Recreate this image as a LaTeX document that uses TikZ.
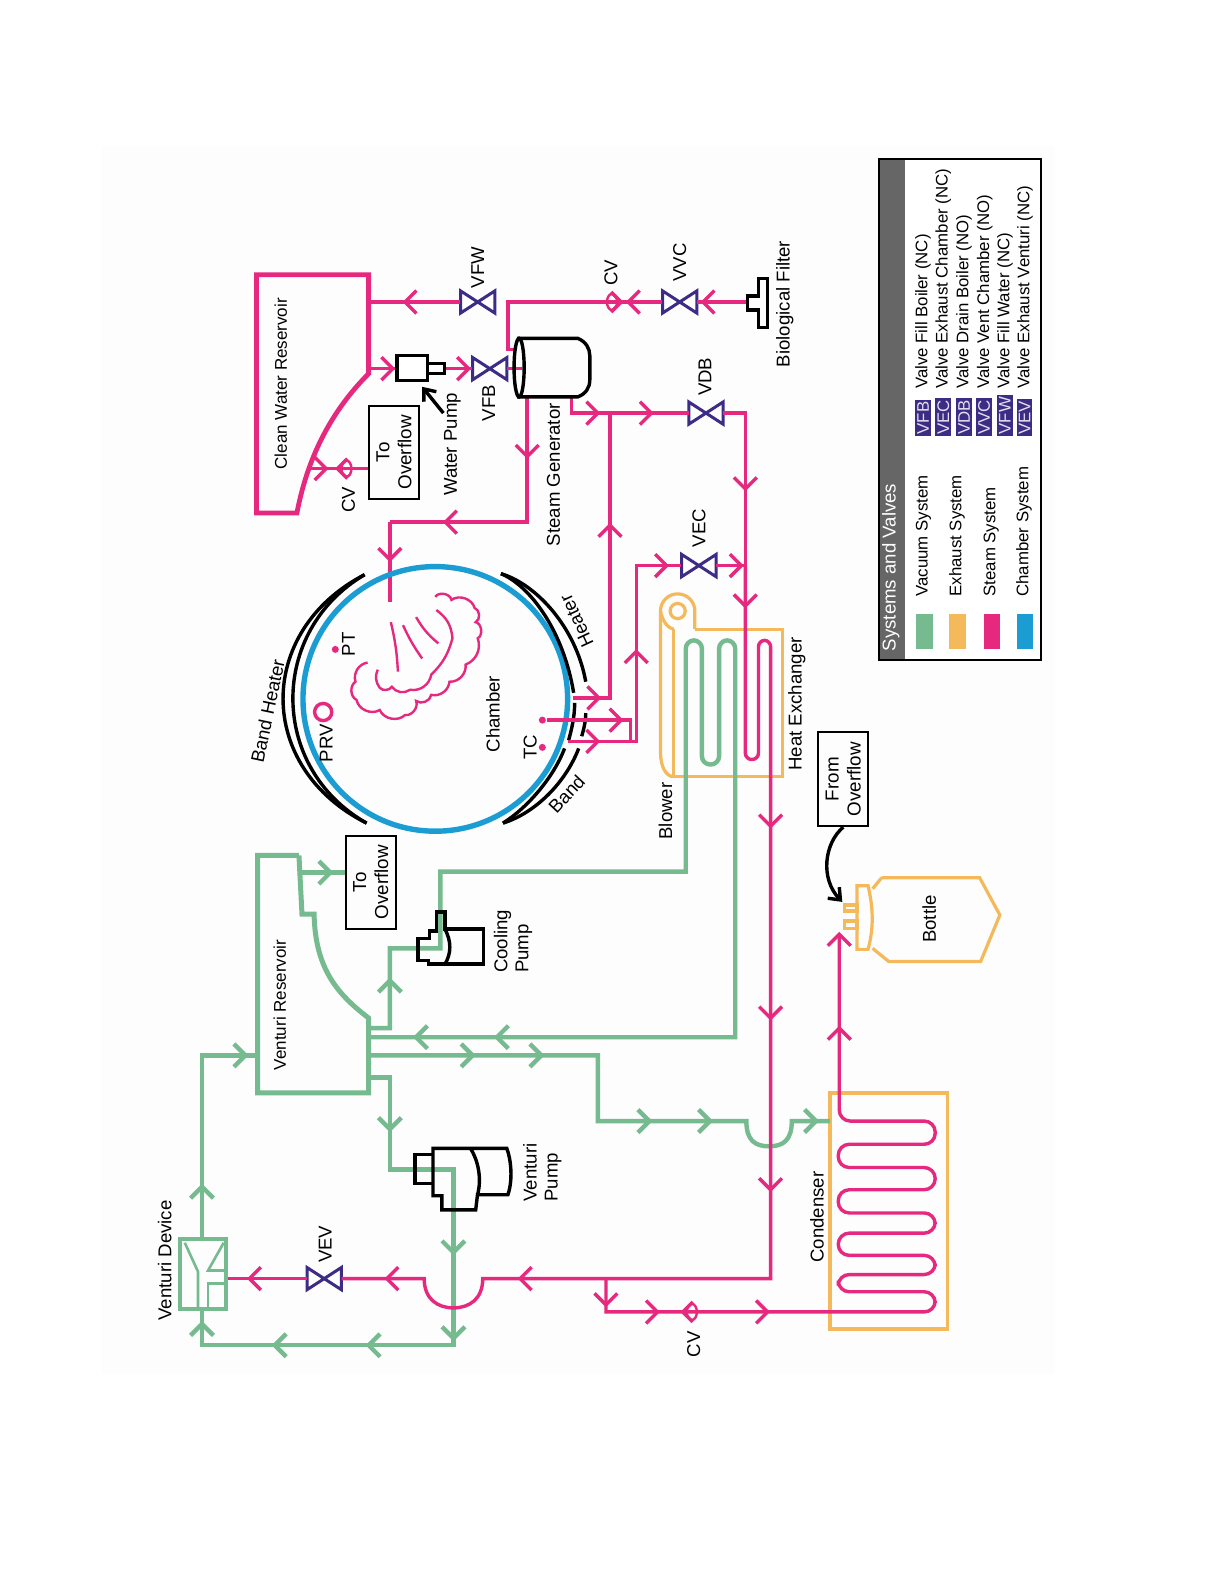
\documentclass[tikz,border=0pt]{standalone}
\usepackage{fontspec}
\setmainfont{Liberation Sans}
\usetikzlibrary{arrows.meta}
\definecolor{steamc}{HTML}{E6287F}
\definecolor{vacc}{HTML}{76BB8F}
\definecolor{exhc}{HTML}{F4B95A}
\definecolor{chamc}{HTML}{1B9DD4}
\definecolor{vlvc}{HTML}{3D2C85}
\definecolor{greyc}{HTML}{666666}
\begin{document}
\begin{tikzpicture}[x=0.50495pt,y=-0.50495pt,
    steam/.style={steamc,line width=1.7pt},
    coil/.style={steamc,line width=1.2pt},
    vac/.style={vacc,line width=2.2pt},
    exh/.style={exhc,line width=1.6pt},
    blk/.style={black,line width=1.7pt},
    vlv/.style={minimum width=17pt,minimum height=11pt,inner sep=0pt},
    box/.style={draw=black,line width=0.9pt,rotate=90,align=center,inner sep=0pt,font=\fontsize{9.4}{11}\selectfont},
    lbl/.style={rotate=90,inner sep=0pt,align=center,font=\fontsize{9.3}{10.5}\selectfont},
    lgd/.style={lbl,anchor=west,font=\fontsize{8.4}{10}\selectfont},
    badge/.style={rotate=90,anchor=west,inner sep=1pt,fill=vlvc,text=white!85!vlvc,font=\fontsize{8.4}{9}\selectfont}]
  \useasboundingbox (0,0) rectangle (1212,1568.4);
  \fill[white] (0,0) rectangle (1212,1568.4);
  \fill[black!0.7] (100,145) rectangle (1045,1360);
  % junctions and ports
  \foreach \n/\x/\y in {cwA/365/299,bfL/740/299,crA/503/299,crB/503/346,sgA/510/346,
      cwB/365/365,wpA/393/365,wpB/440/365,sgB/517/365,sgC/522/393,crC/522/517,crD/386/517,
      chA/386/596,sgD/566/393,crE/566/409,jnA/604/409,crF/738/409,jnB/738/560,
      htA/567/691,jnD/604/691,tcA/542/713,crG/624/713,crH/624/734,htB/562/734,
      crI/630/734,crJ/630/560,crK/763/1266,jnE/600/1266,hopA/478/1266,hopB/449/1295,
      hopC/420/1266,vdA/224/1266,cwC/305/464,ovA/365/464,btA/831/925,crL/600/1299,
      vrA/296/864,ovB/342/864,vrB/365/1018,crM/386/1018,crN/386/939,cpA/436/939,
      crO/436/863,crP/679/863,crQ/728/1027,vrC/365/1027,vrD/365/1045,crR/592/1045,
      crS/592/1110,hopD/739/1110,hopE/761.5/1135,hopF/784/1110,cdC/822/1110,
      vrE/365/1067,crT/386/1067,crU/386/1158,crV/449/1158,crW/449/1332,crX/200/1332,
      vdB/200/1296,vdC/200/1227,crY/200/1045,vrF/255/1045}
    \coordinate (\n) at (\x,\y);
  % valves
  \foreach \n/\x/\y in {vfw/473/299,vvc/673/299,vfb/485/365,vdb/699/409,vec/692/560,vev/321/1266}{
    \node[vlv] (\n) at (\x,\y) {};
    \draw[vlvc,line width=1.5pt,fill=white] (\x-17,\y-11)--(\x+17,\y+11)--(\x+17,\y-11)--(\x-17,\y+11)--cycle;
  }
  % steam into the chamber, then the chamber and heaters
  \draw[steam] (crD)--(chA);
  \draw[chamc,line width=2.7pt] (431,692) circle (131);
  \draw[blk] (361,569) .. controls (253,625) and (253,760) .. (363,815);
  \draw[blk] (361,569) .. controls (266,625) and (266,760) .. (363,815);
  \draw[blk] (496,568) .. controls (530,578) and (570,620) .. (580,675);
  \draw[blk] (496,568) .. controls (525,580) and (558,625) .. (568,686);
  \draw[blk] (498,815) .. controls (530,805) and (560,775) .. (573,741);
  \draw[blk] (498,815) .. controls (522,800) and (548,770) .. (559,741);
  \draw[blk] (569,696) .. controls (569,710) and (566,722) .. (563,733);
  \draw[blk] (580,706) .. controls (580,714) and (578,722) .. (576,729);
  \draw[steam] (320,705) circle (8.5);
  \foreach \n/\x/\y in {dotPT/332/643,dotTC/537/740,dotTD/537/713}
    \node[circle,fill=steamc,minimum size=3.5pt,inner sep=0pt] (\n) at (\x,\y) {};
  % the diffuser in the chamber
  \draw[coil] (431,591) to[bend left=70] (447,594) to[bend left=55] (470,602) to[bend left=70] (471,616)
    to[bend left=70] (473,632) to[bend left=45] (461,658) to[bend left=50] (445,675) to[bend left=50] (427,688)
    to[bend left=60] (412,694) to[bend left=60] (401,708) to[bend left=55] (376,703) to[bend left=55] (353,693)
    to[bend left=60] (352,675) to[bend left=50] (364,656);
  \draw[coil] (432,604) to[bend left=25] (448,632) to[bend left=15] (427,668) to[bend left=45] (406,683)
    to[bend left=45] (388,680) to[bend left=50] (376,681) to[bend left=30] (374,663);
  \draw[coil] (387,616) to[bend left=5] (394,665);
  \draw[coil] (399,619) to[bend right=5] (418,652);
  \draw[coil] (412,611) to[bend right=10] (434,637);
  % the exhaust parts
  \draw[exh] (688,623)--(775,623)--(775,769)--(667,769)--(667,623);
  \draw[exh] (688,623)--(688,605) arc (0:-180:17) --(654,745) .. controls (654,760) and (660,769) .. (667,769);
  \draw[exh] (654,605) .. controls (656,616) and (662,622) .. (667,623);
  \draw[exh] (671,605) circle (7.5);
  \draw[exhc,line width=1.8pt] (822,1082) rectangle (938,1316);
  \draw[exh] (873,869)--(970,869)--(990,906)--(971,952)--(880,952)--(864,939);
  \draw[exh] (864,880)--(873,869);
  \draw[exh] (848.6,877)--(859.5,877) .. controls (865,900) and (865,920) .. (859.5,940) --(848.6,940)--cycle;
  \draw[exh] (836,896) rectangle (848.6,902);
  \draw[exh] (836,912) rectangle (848.6,919);
  % steam lines
  \draw[steam] (cwA)--(vfw);
  \draw[steam] (bfL)--(vvc);
  \draw[steam] (vvc)--(crA)--(crB)--(sgA);
  \draw[steam] (cwB)--(wpA) (wpB)--(vfb) (vfb)--(sgB);
  \draw[steam] (sgC)--(crC)--(crD);
  \draw[steam] (sgD)--(crE)--(jnA)--(vdb);
  \draw[steam] (vdb)--(crF)--(jnB);
  \draw[steam] (htA)--(jnD)--(jnA);
  \draw[steam] (tcA)--(crG)--(crH);
  \draw[steam] (htB)--(crI)--(crJ)--(vec);
  \draw[steam] (vec)--(jnB);
  \draw[steam] (cwC)--(ovA);
  % vacuum lines
  \draw[vac] (vrA)--(ovB);
  \draw[vac] (vrB)--(crM)--(crN)--(cpA)--(crO)--(crP)--(679,800)[rounded corners=4.2pt]--(679,634)--(695,634)--(695,757)--(712,757)--(712,634)--(728,634)--(728,900)[sharp corners]--(crQ)--(vrC);
  \draw[vac] (vrD)--(crR)--(crS)--(hopD) .. controls +(0,19) and +(-14,0) .. (hopE) .. controls +(14,0) and +(0,19) .. (hopF)--(cdC);
  \draw[vac] (vrE)--(crT)--(crU)--(crV)--(crW)--(crX)--(vdB);
  \draw[vac] (vdC)--(crY)--(vrF);
  \draw[vacc,line width=2.5pt] (296,847)--(255,847)--(255,1082)--(365,1082)--(365,1008) .. controls (335,985) and (312,960) .. (311,905)--(299,905)--(296,847);
  % the long steam run through both coils
  \draw[steam] (jnB)--(738,634)[rounded corners=3.2pt]--(738,752)--(751,752)--(751,634)--(763,634)--(763,900)[sharp corners]--(crK)--(jnE)--(hopA)
    .. controls +(0,20) and +(16,0) .. (hopB) .. controls +(-16,0) and +(0,20) .. (hopC)--(vev);
  \draw[steam] (vev)--(vdA);
  \draw[steam] (btA)--(831,1060)[rounded corners=5.5pt]--(831,1110)--(926,1110)--(926,1133)--(830,1133)--(830,1156)--(926,1156)--(926,1178)--(830,1178)--(830,1201)--(926,1201)--(926,1221)--(830,1221)--(830,1243)--(926,1243)--(926,1262)--(830,1262)--(830,1279)--(926,1279)--(926,1299)--(700,1299)[sharp corners]--(crL)--(jnE);
  % arrow marks on the lines
  \foreach \x/\y/\a in {401/299/180,622/299/180,696/299/180,389/365/0,464/365/0,522/452/90,441/517/180,386/554/90,
      592/409/0,645/409/0,738/484/90,604/520/270,738/600/90,593/691/0,615/713/0,592/734/0,630/645/270,
      660/560/0,734/560/0,763/818/90,763/1008/90,763/1178/90,515/1266/180,383/1266/180,247/1266/180,
      600/1292/90,651/1299/0,760/1299/0,831/925/270,831/1018/270,323/464/0}
    \draw[steam] (\x,\y) ++(\a+135:16) -- (\x,\y) -- ++(\a-135:16);
  \foreach \x/\y/\a in {327/864/0,386/971/270,412/1027/180,492/1027/180,468/1045/0,536/1045/0,643/1110/0,703/1110/0,
      808/1110/0,386/1118/90,449/1240/90,449/1325/90,365/1332/180,272/1332/180,200/1311/270,200/1175/270,243/1045/0}
    \draw[vac] (\x,\y) ++(\a+135:16) -- (\x,\y) -- ++(\a-135:16);
  % check valves
  \foreach \x/\y/\a in {606/299/0,343/464/180,685/1299/180}{
    \draw[steamc,line width=1.2pt] (\x,\y) ellipse (5 and 8);
    \draw[steam] (\x,\y) ++(\a:9) ++(\a+135:14) -- ++(\a-45:14) -- ++(\a+225:14);
  }
  % the black equipment
  \draw[blk,fill=white] (393,352) rectangle (423,377);
  \draw[blk,fill=white] (423,360) rectangle (440,370);
  \draw[blk] (512,335)--(572,335) .. controls (580,338) and (584,345) .. (584,352)--(584,376) .. controls (584,384) and (580,390) .. (572,393)--(512,393);
  \draw[blk] (514,364) ellipse (5 and 29);
  \draw[blk] (751,276)--(760,276)--(760,324)--(751,324)--(751,307)--(740,307)--(740,293)--(751,293)--cycle;
  \draw[blk] (432.4,903)--(440.6,903)--(440.6,920)--(478.6,920)--(478.6,954.5)--(424,954.5)--(424,951)--(414,951)--(414,929)--(425,929)--(425,922)--(432.4,922)--cycle;
  \draw[blk] (440.6,920) .. controls (447,932) and (447,944) .. (440.6,954.5);
  \draw[blk] (428.7,1137)--(501.8,1137) .. controls (506,1148) and (508,1168) .. (502.9,1183)--(472.8,1183)--(471,1198)--(437.5,1198)--(437.5,1184)--(428.7,1184)--cycle;
  \draw[blk] (428.7,1143)--(411,1143)--(411,1172)--(428.7,1172);
  \draw[blk] (465.8,1137) .. controls (474,1150) and (477,1168) .. (472.8,1183);
  % the venturi device
  \draw[vacc,line width=2.2pt] (178,1227) rectangle (223.5,1296);
  \draw[vacc,line width=1.3pt] (183,1230.5)--(196,1259)--(196,1295);
  \draw[vacc,line width=1.3pt] (221.5,1230.5)--(206,1258)--(222,1258);
  \draw[vacc,line width=1.3pt] (206,1295)--(206,1271)--(222,1271);
  % boxes with text
  \node[box,minimum width=46.5pt,minimum height=25pt] (ovfA) at (390,448) {To\\Overflow};
  \node[box,minimum width=46.5pt,minimum height=25pt] (ovfB) at (367,873.5) {To\\Overflow};
  \node[box,minimum width=47pt,minimum height=25pt] (ovfC) at (835,771.5) {From\\Overflow};
  \coordinate (ovfTip) at (834,893);
  \draw[blk,-{Straight Barb[length=5pt,width=8pt]}] (ovfC.west) .. controls (816,835) and (812,870) .. (ovfTip);
  \coordinate (wpTip) at (418,383);
  \coordinate (wpTail) at (439,409);
  \draw[blk,-{Straight Barb[length=5pt,width=8pt]}] (wpTail)--(wpTip);
  % the clean water reservoir
  \draw[steamc,line width=2.4pt] (254,272)--(365,272)--(365,370) .. controls (330,405) and (305,450) .. (294,508)--(254,508)--cycle;
  % labels
  \foreach \n/\x/\y/\t in {lVFW/473/265/VFW,lCVa/605/270/CV,lVVC/673/260/VVC,
      lBF/777/301/Biological Filter,lVDB/698/373/VDB,lVEC/692/523/VEC,lVFB/484/399/VFB,lWP/448/440/Water Pump,
      lSG/548/470/Steam Generator,lCVb/345/495/CV,lCH/488/707/Chamber,lPRV/323/736/PRV,lPT/345/638/PT,lTC/525/740/TC,
      lBL/659/803/Blower,lHE/789/697/Heat Exchanger,lBT/920/910/Bottle,
      lCD/809/1205/Condenser,lCVc/687/1331/CV,lVEV/322/1232/VEV,lVD/163/1248/Venturi Device}
    \node[lbl] (\n) at (\x,\y) {\t};
  \node[lbl,font=\fontsize{8.5}{10}\selectfont] (lCW) at (278,380) {Clean Water Reservoir};
  \node[lbl,font=\fontsize{8.5}{10}\selectfont] (lVR) at (277,995) {Venturi Reservoir};
  \node[lbl,rotate=-12] (lBHa) at (265,704) {Band Heater};
  \node[lbl,rotate=25] (lHTa) at (571,615) {Heater};
  \node[lbl,rotate=-43] (lBDa) at (561,786) {Band};
  \node[lbl,align=left] (lCP) at (508,932) {Cooling\\Pump};
  \node[lbl,align=left] (lVP) at (537,1161) {Venturi\\Pump};
  % legend
  \draw[black,line width=1pt,fill=white] (870,157.5) rectangle (1031,653.5);
  \fill[greyc] (870,157.5) rectangle (896,653.5);
  \draw[black,line width=1pt] (870,157.5) rectangle (1031,653.5);
  \node[lbl,anchor=west,text=white,font=\fontsize{9.3}{11}\selectfont] (lgT) at (882,645) {Systems and Valves};
  \foreach \n/\x/\c/\t in {lgA/907/vacc/Vacuum System,lgB/940/exhc/Exhaust System,lgC/974/steamc/Steam System,lgD/1006.5/chamc/Chamber System}{
    \fill[\c] (\x,608) rectangle (\x+16.5,643);
    \node[lgd] (\n) at (\x+7.5,591) {\t};
  }
  \foreach \n/\x/\t in {bgA/914/VFB,bgB/934/VEC,bgC/954.5/VDB,bgD/974.5/VVC,bgE/995/VFW,bgF/1014.5/VEV}
    \node[badge] (\n) at (\x,432.5) {\t};
  \foreach \n/\x/\t in {vtA/914/Valve Fill Boiler (NC),vtB/934/Valve Exhaust Chamber (NC),vtC/954.5/Valve Drain Boiler (NO),
      vtD/975/Valve Vent Chamber (NO),vtE/995/Valve Fill Water (NC),vtF/1015/Valve Exhaust Venturi (NC)}
    \node[lgd] (\n) at (\x,385.5) {\t};
\end{tikzpicture}
\end{document}
